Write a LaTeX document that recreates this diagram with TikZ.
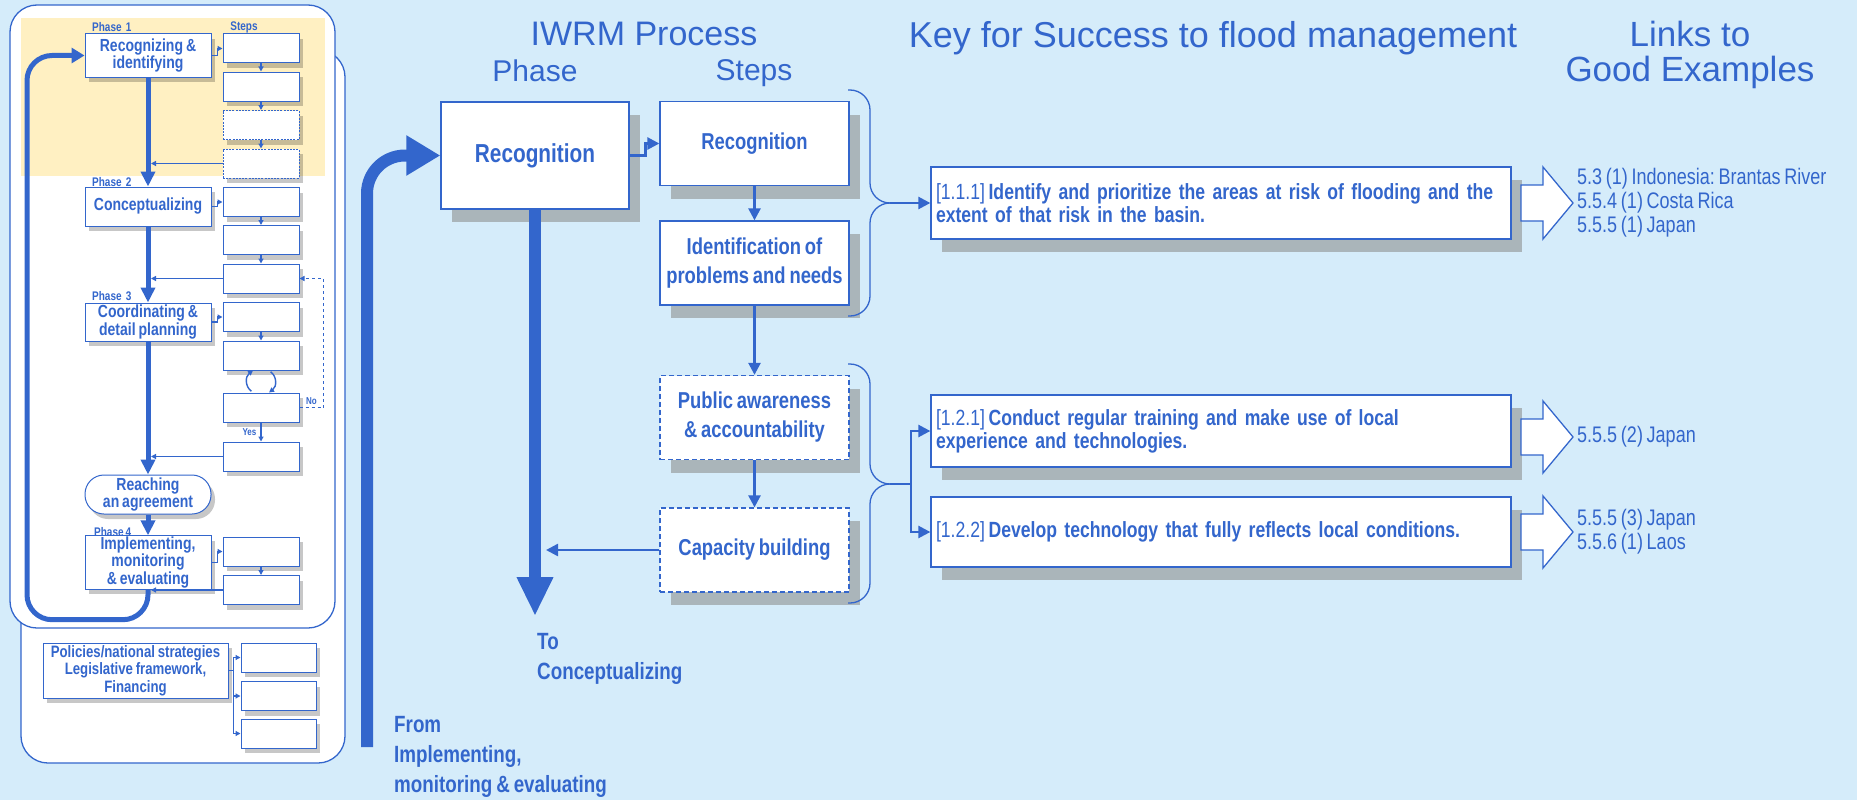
\documentclass[tikz,border=0pt]{standalone}
\usepackage{fontspec}
\setmainfont{Liberation Sans}
\newfontfamily\nar[FakeStretch=0.8,WordSpace=0.75]{Liberation Sans}
\usetikzlibrary{arrows.meta,shadows}
\definecolor{iblue}{HTML}{3366CC}
\definecolor{bgblue}{HTML}{D5ECFA}
\definecolor{shgray}{HTML}{AAB5BA}
\definecolor{yelo}{HTML}{FFF0C2}
\frenchspacing

\begin{document}
\begin{tikzpicture}[x=1pt,y=-1pt,color=iblue,
  box/.style={draw=iblue,fill=white,line width=1.3pt,align=center,inner sep=2pt},
  sh/.style={drop shadow={shadow xshift=11pt,shadow yshift=-13pt,fill=shgray,opacity=1}},
  lsh/.style={drop shadow={shadow xshift=4pt,shadow yshift=-5pt,fill=black,opacity=.22}},
  phbox/.style={box,sh,minimum width=188pt,minimum height=107pt,font=\nar\bfseries\fontsize{26}{28}\selectfont},
  stbox/.style={box,sh,minimum width=189pt,minimum height=84pt,font=\nar\bfseries\fontsize{23}{29}\selectfont},
  dstbox/.style={stbox,dash pattern=on 5pt off 3pt},
  keybox/.style={box,sh,align=left,text width=570pt,inner xsep=5pt,minimum height=72pt,font=\nar\bfseries\fontsize{22}{23}\selectfont},
  lbox/.style={box,lsh,line width=1pt,minimum width=126pt,inner sep=1pt,font=\nar\bfseries\fontsize{17.5}{17.5}\selectfont},
  sbox/.style={draw=iblue,fill=white,line width=1pt,lsh,minimum width=76pt,minimum height=29pt,inner sep=0pt},
  dsbox/.style={sbox,dash pattern=on 2pt off 1.2pt},
  lbl/.style={inner sep=0pt,font=\nar\bfseries\fontsize{12.5}{13}\selectfont},
  tiny/.style={inner sep=1pt,font=\nar\bfseries\fontsize{10}{10}\selectfont},
  lnk/.style={anchor=west,align=left,inner sep=0pt,font=\nar\fontsize{22.5}{24}\selectfont},
  note/.style={anchor=west,align=left,inner sep=0pt,font=\nar\bfseries\fontsize{23.5}{30}\selectfont},
  thk/.style={line width=5pt,-{Triangle[length=15pt,width=14pt]}},
  thn/.style={line width=1.4pt,-{Triangle[length=5pt,width=5pt]}},
  med/.style={line width=2.5pt,-{Triangle[length=12pt,width=12pt]}},
  brc/.style={line width=1.3pt,rounded corners=20pt},
  hol/.style={draw=iblue,fill=white,line width=1.3pt}]
  \fill[bgblue] (0,0) rectangle (1857,800);
  \useasboundingbox (0,0) rectangle (1857,800);
  % left panel
  \filldraw[fill=white,line width=1.3pt,rounded corners=27pt] (21,50) rectangle (345,763);
  \filldraw[fill=white,line width=1.3pt,rounded corners=27pt] (10,5) rectangle (335,628);
  \fill[yelo] (21,18) rectangle (325,176);
  \node[lbl,anchor=west](ph1)at(92, 27){Phase\ \ 1};
  \node[lbl](stp)at(244, 27){Steps};
  \node[lbl,anchor=west](ph2)at(92, 182){Phase\ \ 2};
  \node[lbl,anchor=west](ph3)at(92, 296){Phase\ \ 3};
  \node[lbl,anchor=west](ph4)at(94, 532){Phase 4};
  \node[lbox,minimum height=43pt](lp1)at(148, 55.5){Recognizing \&\\identifying};
  \node[lbox,minimum height=39pt](lp2)at(148, 206.5){Conceptualizing};
  \node[lbox,minimum height=38pt](lp3)at(148, 322){Coordinating \&\\detail planning};
  \node[lbox,minimum height=39pt,rounded corners=19pt](agr)at(148, 494.5){Reaching\\an agreement};
  \node[lbox,minimum height=51pt](lp4)at(148, 562.5){Implementing,\\monitoring\\\& evaluating};
  \node[sbox](s1)at(261, 48.5){};
  \node[sbox](s2)at(261, 86.5){};
  \node[dsbox](s3)at(261, 125){};
  \node[dsbox](s4)at(261, 163.5){};
  \node[sbox](s5)at(261, 202){};
  \node[sbox](s6)at(261, 240){};
  \node[sbox](s7)at(261, 278.5){};
  \node[sbox](s8)at(261, 317){};
  \node[sbox](s9)at(261, 355.5){};
  \node[sbox](s10)at(261, 407.5){};
  \node[sbox](s11)at(261, 456.5){};
  \node[sbox](s12)at(261, 551.5){};
  \node[sbox](s13)at(261, 590){};
  \node[lbox,minimum width=185pt,minimum height=55pt,font=\nar\bfseries\fontsize{16.5}{17.5}\selectfont](pol)at(135.5, 670.5){Policies/national strategies\\Legislative framework,\\Financing};
  \node[sbox,minimum width=75pt](q1)at(278.5, 657.5){};
  \node[sbox,minimum width=75pt](q2)at(278.5, 696){};
  \node[sbox,minimum width=75pt](q3)at(278.5, 733.5){};
  \path[thk] (lp1) edge (lp2) (lp2) edge (lp3) (lp3) edge (agr) (agr) edge (lp4);
  \path[thn] (s1) edge (s2) (s2) edge (s3) (s3) edge (s4)
    (s5) edge (s6) (s6) edge (s7) (s8) edge (s9)
    (s10) edge node[tiny,left=3pt]{Yes} (s11) (s12) edge (s13);
  \draw[thn] (lp1.east) -- ++(6,0) |- (s1.west);
  \draw[thn] (lp2.east) -- ++(6,0) |- (s5.west);
  \draw[thn] (lp3.east) -- ++(6,0) |- (s8.west);
  \draw[thn] (lp4.east) -- ++(6,0) |- (s12.west);
  \draw[thn,shorten >=3pt] (s4.west) -- (s4.west -| lp1.center);
  \draw[thn,shorten >=3pt] (s7.west) -- (s7.west -| lp1.center);
  \draw[thn,shorten >=3pt] (s11.west) -- (s11.west -| lp1.center);
  \draw[thn,shorten >=3pt] (s13.west) -- (s13.west -| lp1.center);
  \draw[thn,shorten <=2pt] ([xshift=-8pt]s10.north) .. controls +(-8,-6) and +(-8,6) .. ([xshift=-8pt]s9.south);
  \draw[thn,shorten <=2pt] ([xshift=8pt]s9.south) .. controls +(8,6) and +(8,-6) .. ([xshift=8pt]s10.north);
  \draw[thn,dashed] (s10.east) -- node[tiny,above=1pt]{No} ++(24,0) |- (s7.east);
  \draw[thn] (pol.east) -- ++(5,0) |- (q1.west);
  \draw[thn] (pol.east) -- ++(5,0) |- (q2.west);
  \draw[thn] (pol.east) -- ++(5,0) |- (q3.west);
  \draw[line width=5pt,rounded corners=25pt,-{Triangle[length=13pt,width=15pt]}] (lp4.south) -- ++(0,30) -- ++(-121,0) |- (lp1.west);
  % titles
  \node[font=\fontsize{34}{34}\selectfont](t1)at(644, 34){IWRM Process};
  \node[font=\fontsize{30}{30}\selectfont](t2)at(535, 71){Phase};
  \node[font=\fontsize{30}{30}\selectfont](t3)at(754, 73){Steps};
  \node[font=\fontsize{36}{36}\selectfont](t4)at(1213, 38){Key for Success to flood management};
  \node[font=\fontsize{35}{35}\selectfont,align=center](t5)at(1690, 55){Links to\\Good Examples};
  % process
  \node[phbox](ph)at(535, 155.5){Recognition};
  \node[stbox](st1)at(754.5, 143.5){Recognition};
  \node[stbox](st2)at(754.5, 263){Identification of\\problems and needs};
  \node[dstbox](st3)at(754.5, 417.5){Public awareness\\\& accountability};
  \node[dstbox](st4)at(754.5, 550){Capacity building};
  \coordinate (phend) at (535, 616);
  \coordinate (fromend) at (367, 747);
  \draw[line width=12pt,-{Triangle[length=39pt,width=34pt]}] (ph.south) -- (phend);
  \draw[line width=12pt,rounded corners=38pt,-{Triangle[length=34pt,width=38pt]}] (fromend) |- (ph.west);
  \draw[med] (ph.east) -- ++(16,0) |- (st1.west);
  \path[med] (st1) edge (st2) (st2) edge (st3) (st3) edge (st4);
  \draw[med,shorten >=11pt] (st4.west) -- (st4.west -| ph.center);
  \node[note](toc)at(537, 659){To\\Conceptualizing};
  \node[note](fim)at(394, 757){From\\Implementing,\\monitoring \& evaluating};
  % keys
  \node[keybox](k1)at(1221, 203){{\mdseries[1.1.1]}\,Identify and prioritize the areas at risk of flooding and the\\extent of that risk in the basin.};
  \node[keybox](k2)at(1221, 431){{\mdseries[1.2.1]}\,Conduct regular training and make use of local\\experience and technologies.};
  \node[keybox,minimum height=70pt](k3)at(1221, 532){{\mdseries[1.2.2]}\,Develop technology that fully reflects local conditions.};
  \coordinate (b1) at (890, 203);
  \coordinate (b2) at (890, 484);
  \draw[brc] (848, 90) -- (870, 90) -- (870, 203) -- (b1);
  \draw[brc] (b1) -- (870, 203) -- (870, 316) -- (848, 316);
  \draw[brc] (848, 364) -- (870, 364) -- (870, 484) -- (b2);
  \draw[brc] (b2) -- (870, 484) -- (870, 603) -- (848, 603);
  \draw[med] (b1) -- (k1.west);
  \draw[med] (b2) -- ++(21,0) |- (k2.west);
  \draw[med] (b2) -- ++(21,0) |- (k3.west);
  % links
  \foreach \y in {203,437,532}
    \draw[hol] (1521,\y-18) -- (1543,\y-18) -- (1543,\y-36) -- (1573,\y) -- (1543,\y+36) -- (1543,\y+18) -- (1521,\y+18) -- cycle;
  \node[lnk](l1)at(1577, 203){5.3 (1) Indonesia: Brantas River\\5.5.4 (1) Costa Rica\\5.5.5 (1) Japan};
  \node[lnk](l2)at(1577, 437){5.5.5 (2) Japan};
  \node[lnk](l3)at(1577, 532){5.5.5 (3) Japan\\5.5.6 (1) Laos};
\end{tikzpicture}
\end{document}
